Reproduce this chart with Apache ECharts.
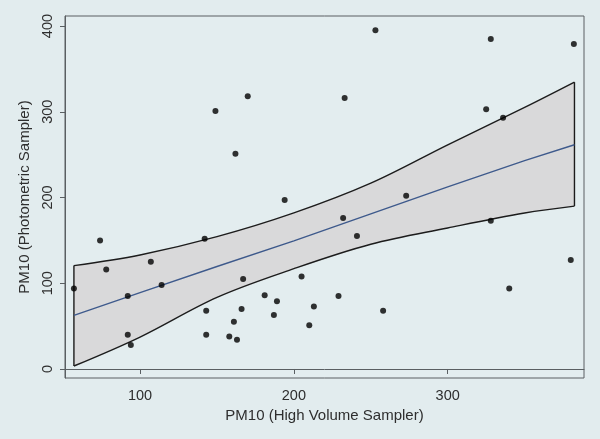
<!DOCTYPE html>
<html>
<head>
<meta charset="utf-8">
<script src="https://cdn.jsdelivr.net/npm/echarts@6/dist/echarts.min.js"></script>
<style>
  html, body { margin: 0; padding: 0; background: #e2ecee; }
  #chart { width: 600px; height: 439px; }
</style>
</head>
<body>
<div id="chart"></div>
<script>
// scatter points: high volume sampler (x) vs photometric sampler (y)
const hvSampler = [57, 74, 78, 92, 92, 94, 107, 114, 142, 143, 143, 158, 161, 163, 166, 167,
  181, 187, 189, 194, 205, 149, 170, 162, 253, 328, 382, 233, 325, 336, 273, 232, 241, 328,
  380, 340, 213, 210, 229, 258]
const photoSampler = [94, 150, 116, 85, 40, 28, 125, 98, 152, 68, 40, 38, 55, 34, 70, 105,
  86, 63, 79, 197, 108, 301, 318, 251, 395, 385, 379, 316, 303, 293, 202, 176, 155, 173,
  127, 94, 73, 51, 85, 68]

// linear fit and 95% CI band
const fitX = [57, 100, 150, 200, 250, 300, 350, 382.4]
const fitY = [62.5, 89, 119.5, 149.5, 181, 212.5, 243, 261.5]
const ciUpper = [120.6, 133, 154.3, 182, 216.7, 261.4, 305, 334.5]
const ciLower = [3.5, 37.3, 83.6, 117, 145.5, 164.5, 182, 190]

const xTicks = [100, 200, 300]
const yTicks = [0, 100, 200, 300, 400]

const chart = echarts.init(document.getElementById('chart'))
const font = 'Liberation Sans, Arial, sans-serif'
const edge = { stroke: '#1c1c1c', lineWidth: 1.4, fill: null }

const option = {
  backgroundColor: '#e2ecee',
  animation: false,
  grid: {
    left: 65, right: 16, top: 16, bottom: 61,
    show: true,
    borderColor: '#5a5f62',
    borderWidth: 1,
    backgroundColor: '#e3edef',
  },
  xAxis: {
    type: 'value',
    min: 51.2,
    max: 388.6,
    name: 'PM10 (High Volume Sampler)',
    nameLocation: 'middle',
    nameGap: 29,
    nameTextStyle: { color: '#2e2e2e', fontSize: 15, fontFamily: font },
    axisLine: { show: true, lineStyle: { color: '#5a5f62' } },
    axisTick: { show: true, length: 5, customValues: xTicks, lineStyle: { color: '#5a5f62' } },
    axisLabel: { customValues: xTicks, color: '#2e2e2e', fontSize: 14.5, fontFamily: font, margin: 10 },
    splitLine: { show: false },
  },
  yAxis: {
    type: 'value',
    min: -10.5,
    max: 411.7,
    name: 'PM10 (Photometric Sampler)',
    nameLocation: 'middle',
    nameGap: 33,
    nameTextStyle: { color: '#2e2e2e', fontSize: 15, fontFamily: font },
    axisLine: { show: true, lineStyle: { color: '#5a5f62' } },
    axisTick: { show: true, length: 5, customValues: yTicks, lineStyle: { color: '#5a5f62' } },
    axisLabel: { customValues: yTicks, rotate: 90, color: '#2e2e2e', fontSize: 14.5, fontFamily: font, margin: 10 },
    splitLine: { show: false },
  },
  series: [
    {
      type: 'custom',
      z: 1,
      data: [[fitX[0], ciLower[0]]],
      renderItem: (params, api) => {
        const top = fitX.map((x, i) => api.coord([x, ciUpper[i]]))
        const bottom = fitX.map((x, i) => api.coord([x, ciLower[i]]))
        const last = fitX.length - 1
        return {
          type: 'group',
          children: [
            {
              type: 'polygon',
              shape: { points: top.concat(bottom.slice().reverse()), smooth: 0 },
              style: { fill: '#d9d9da', stroke: null },
            },
            { type: 'polyline', shape: { points: top, smooth: 0.35 }, style: edge },
            { type: 'polyline', shape: { points: bottom, smooth: 0.35 }, style: edge },
            { type: 'line', shape: { x1: top[0][0], y1: top[0][1], x2: bottom[0][0], y2: bottom[0][1] }, style: edge },
            { type: 'line', shape: { x1: top[last][0], y1: top[last][1], x2: bottom[last][0], y2: bottom[last][1] }, style: edge },
          ],
        }
      },
    },
    {
      type: 'line',
      z: 2,
      symbol: 'none',
      data: fitX.map((x, i) => [x, fitY[i]]),
      lineStyle: { color: '#3e5a8c', width: 1.4 },
    },
    {
      type: 'scatter',
      z: 3,
      symbolSize: 6,
      itemStyle: { color: '#000' },
      data: hvSampler.map((x, i) => [x, photoSampler[i]]),
    },
  ],
}

chart.setOption(option)
</script>
</body>
</html>
